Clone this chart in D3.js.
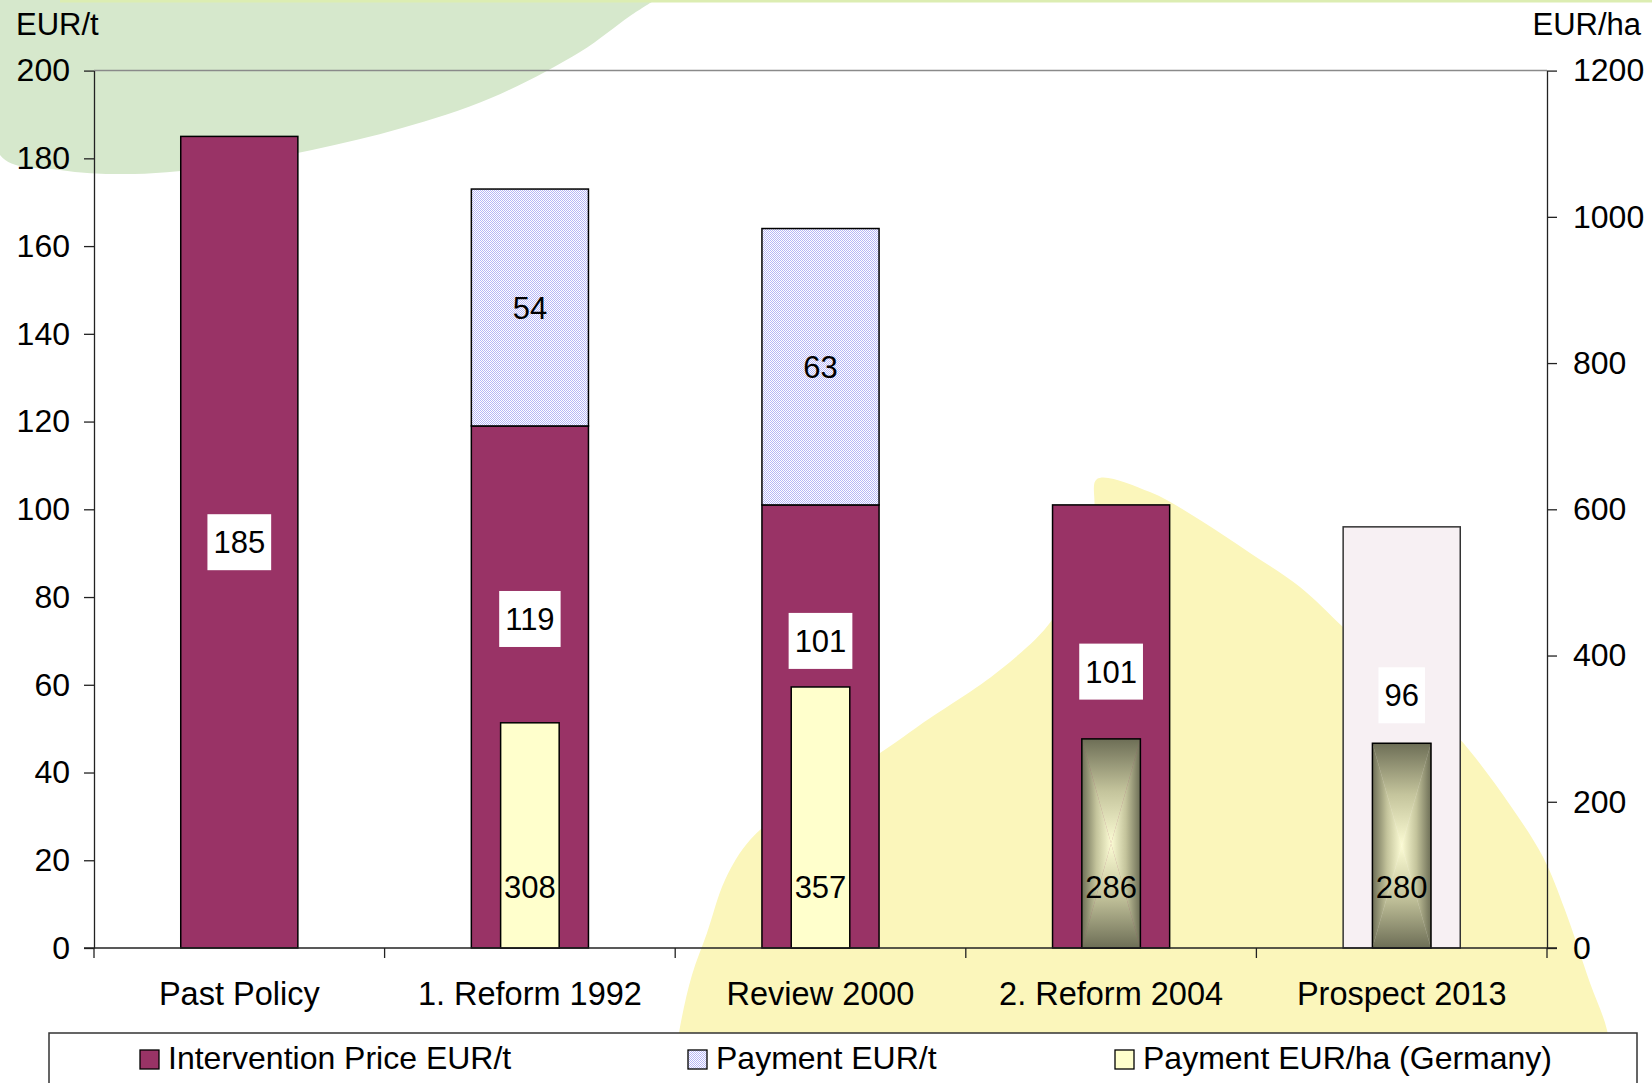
<!DOCTYPE html>
<html>
<head>
<meta charset="utf-8">
<script src="https://cdn.jsdelivr.net/npm/d3@7"></script>
<style>
  html, body { margin: 0; padding: 0; background: #fff; }
  svg { display: block; }
  text { font-family: "Liberation Sans", Arial, sans-serif; fill: #000; }
</style>
</head>
<body>
<svg id="chart" width="1652" height="1083"></svg>
<script>
// ---------- data ----------
const categories = ["Past Policy", "1. Reform 1992", "Review 2000", "2. Reform 2004", "Prospect 2013"];
const interventionPrice = [185, 119, 101, 101, 96];      // EUR/t (left axis)
const paymentPerTonne   = [0, 54, 63, 0, 0];             // EUR/t (left axis, stacked)
const paymentPerHa      = [null, 308, 357, 286, 280];    // EUR/ha (right axis)
const leftTicks  = [0, 20, 40, 60, 80, 100, 120, 140, 160, 180, 200];
const rightTicks = [0, 200, 400, 600, 800, 1000, 1200];
const seriesNames = ["Intervention Price EUR/t", "Payment EUR/t", "Payment EUR/ha (Germany)"];
// where the price labels sit (in EUR/t units, as placed in the original)
const priceLabelAt = [92.5, 75, 70, 63, 57.6];

// ---------- layout ----------
const W = 1652, H = 1083;
const plot = { left: 94, right: 1547, top: 70.6, bottom: 948 };
const FONT = 31, TICKFONT = 32, CATFONT = 32.5, LEGFONT = 32;
const svg = d3.select("#chart");
const defs = svg.append("defs");

// pattern for Payment EUR/t (fine checker)
const pat = defs.append("pattern").attr("id", "checker")
  .attr("width", 2).attr("height", 2).attr("patternUnits", "userSpaceOnUse");
pat.append("rect").attr("width", 2).attr("height", 2).attr("fill", "#ffffff");
pat.append("rect").attr("width", 1).attr("height", 1).attr("fill", "#b6b6f6");
pat.append("rect").attr("x", 1).attr("y", 1).attr("width", 1).attr("height", 1).attr("fill", "#b6b6f6");

// gradients for the "from center" fill
function makeGrad(id, x1, y1, x2, y2) {
  const g = defs.append("linearGradient").attr("id", id)
    .attr("x1", x1).attr("y1", y1).attr("x2", x2).attr("y2", y2);
  g.append("stop").attr("offset", 0).attr("stop-color", "#6d6e56");
  g.append("stop").attr("offset", 0.5).attr("stop-color", "#c4c49c");
  g.append("stop").attr("offset", 1).attr("stop-color", "#fcfcd4");
}
makeGrad("gTop", 0, 0, 0, 1);
makeGrad("gBot", 0, 1, 0, 0);
makeGrad("gLeft", 0, 0, 1, 0);
makeGrad("gRight", 1, 0, 0, 0);

// ---------- background decorations ----------
const deco = svg.append("g");
const greenPts = [[0,0],[0,155],[60,170],[134,174],[223,166],[312,150],[402,128],[491,98],[580,52],[630,16],[655,0]];
deco.append("path")
  .attr("d", d3.line().curve(d3.curveCatmullRom)(greenPts) + "Z")
  .attr("fill", "#d6e8cc");
const yellowPts = [[672,1083],[680,1027],[692,975],[707,933],[725,880],[750,840],[800,800],[880,753],[920,725],[1000,670],
                   [1052,620],[1080,560],[1094,510],[1097,479],
                   [1150,492],[1200,520],[1250,553],[1300,587],[1343,627],[1400,680],[1459,738],[1510,805],[1543,857],[1565,910],[1590,983],[1607,1030],[1614,1083]];
deco.append("path")
  .attr("d", d3.line().curve(d3.curveCatmullRom)(yellowPts) + "Z")
  .attr("fill", "#fbf6bb");
deco.append("rect").attr("x", 60).attr("y", 0).attr("width", W - 60).attr("height", 2.5).attr("fill", "#dcedb2");

// ---------- scales ----------
const x = d3.scaleBand().domain(categories).range([plot.left, plot.right]).padding(0);
const yL = d3.scaleLinear().domain([0, 200]).range([plot.bottom, plot.top]);
const yR = d3.scaleLinear().domain([0, 1200]).range([plot.bottom, plot.top]);
const barW = x.bandwidth() * 0.403;
const innerW = barW / 2;

// plot top border
svg.append("line").attr("x1", plot.left).attr("x2", plot.right)
  .attr("y1", plot.top).attr("y2", plot.top).attr("stroke", "#8a8a8a").attr("stroke-width", 1.5);

// ---------- bars ----------
const bars = svg.append("g");
const priceFill = "#993366", prospectFill = "#f7f0f3";
categories.forEach((c, i) => {
  const cx = x(c) + x.bandwidth() / 2;
  const p = interventionPrice[i], q = paymentPerTonne[i];
  bars.append("rect")
    .attr("x", cx - barW / 2).attr("width", barW)
    .attr("y", yL(p)).attr("height", yL(0) - yL(p))
    .attr("fill", i === categories.length - 1 ? prospectFill : priceFill)
    .attr("stroke", i === categories.length - 1 ? "#333" : "#000").attr("stroke-width", 1.5);
  if (q > 0) {
    bars.append("rect")
      .attr("x", cx - barW / 2).attr("width", barW)
      .attr("y", yL(p + q)).attr("height", yL(p) - yL(p + q))
      .attr("fill", "url(#checker)").attr("stroke", "#000").attr("stroke-width", 1.5);
  }
});

// inner bars (EUR/ha, right axis)
categories.forEach((c, i) => {
  const v = paymentPerHa[i];
  if (v == null) return;
  const cx = x(c) + x.bandwidth() / 2;
  const x0 = cx - innerW / 2, x1 = cx + innerW / 2, y0 = yR(v), y1 = yR(0);
  const g = bars.append("g");
  if (i >= 3) {
    const mx = cx, my = (y0 + y1) / 2;
    const tri = (pts, fill) => g.append("path").attr("d", "M" + pts.map(p => p.join(",")).join("L") + "Z")
      .attr("fill", fill).attr("stroke", fill).attr("stroke-width", 0.3);
    tri([[x0, y0], [x1, y0], [mx, my]], "url(#gTop)");
    tri([[x0, y1], [x1, y1], [mx, my]], "url(#gBot)");
    tri([[x0, y0], [x0, y1], [mx, my]], "url(#gLeft)");
    tri([[x1, y0], [x1, y1], [mx, my]], "url(#gRight)");
    g.append("rect").attr("x", x0).attr("y", y0).attr("width", innerW).attr("height", y1 - y0)
      .attr("fill", "none").attr("stroke", "#000").attr("stroke-width", 1.5);
  } else {
    g.append("rect").attr("x", x0).attr("y", y0).attr("width", innerW).attr("height", y1 - y0)
      .attr("fill", "#ffffcc").attr("stroke", "#000").attr("stroke-width", 1.5);
  }
});

// ---------- data labels ----------
const labels = svg.append("g").attr("font-size", FONT);
categories.forEach((c, i) => {
  const cx = x(c) + x.bandwidth() / 2;
  // price label with white box
  const ly = yL(priceLabelAt[i]);
  const t = labels.append("text").attr("x", cx).attr("y", ly).attr("dy", "0.36em")
    .attr("text-anchor", "middle").text(interventionPrice[i]);
  const tw = t.node().getComputedTextLength();
  labels.insert("rect", () => t.node())
    .attr("x", cx - tw / 2 - 6).attr("width", tw + 12)
    .attr("y", ly - 28).attr("height", 56).attr("fill", "#fff");
  // payment EUR/t label
  const q = paymentPerTonne[i];
  if (q > 0) {
    const p = interventionPrice[i];
    labels.append("text").attr("x", cx).attr("y", (yL(p) + yL(p + q)) / 2).attr("dy", "0.36em")
      .attr("text-anchor", "middle").text(q);
  }
  // EUR/ha label near base
  const v = paymentPerHa[i];
  if (v != null) {
    labels.append("text").attr("x", cx).attr("y", yR(0) - 61).attr("dy", "0.36em")
      .attr("text-anchor", "middle").text(v);
  }
});

// ---------- axes ----------
const fmt = d3.format("d");
const axL = svg.append("g").attr("transform", `translate(${plot.left},0)`)
  .call(d3.axisLeft(yL).tickValues(leftTicks).tickFormat(fmt).tickSize(10).tickSizeOuter(0).tickPadding(14));
const axR = svg.append("g").attr("transform", `translate(${plot.right},0)`)
  .call(d3.axisRight(yR).tickValues(rightTicks).tickFormat(fmt).tickSize(10).tickSizeOuter(0).tickPadding(16));
[axL, axR].forEach(a => {
  a.selectAll("text").attr("font-size", TICKFONT).attr("font-family", "Liberation Sans, Arial, sans-serif").attr("fill", "#000");
  a.selectAll("line, path").attr("stroke", "#222").attr("stroke-width", 1.3);
});

// x axis (category boundaries)
const axX = svg.append("g");
axX.append("line").attr("x1", plot.left - 10).attr("x2", plot.right + 10)
  .attr("y1", plot.bottom).attr("y2", plot.bottom).attr("stroke", "#222").attr("stroke-width", 1.3);
const bounds = categories.map(c => x(c)).concat([x.range()[1]]);
axX.selectAll(".tk").data(bounds).join("line")
  .attr("x1", d => d).attr("x2", d => d).attr("y1", plot.bottom).attr("y2", plot.bottom + 10)
  .attr("stroke", "#222").attr("stroke-width", 1.3);
axX.selectAll(".cl").data(categories).join("text")
  .attr("x", d => x(d) + x.bandwidth() / 2).attr("y", 1005)
  .attr("text-anchor", "middle").attr("font-size", CATFONT).text(d => d);

// axis titles
svg.append("text").attr("x", 16).attr("y", 35).attr("font-size", FONT).text("EUR/t");
svg.append("text").attr("x", 1641).attr("y", 35).attr("font-size", FONT).attr("text-anchor", "end").text("EUR/ha");

// ---------- legend ----------
const leg = svg.append("g");
leg.append("rect").attr("x", 49).attr("y", 1033).attr("width", 1588).attr("height", 80)
  .attr("fill", "#fff").attr("stroke", "#333").attr("stroke-width", 1.5);
const legX = [140, 688, 1115];
const legFill = [priceFill, "url(#checker)", "#ffffcc"];
seriesNames.forEach((n, i) => {
  leg.append("rect").attr("x", legX[i]).attr("y", 1050).attr("width", 19).attr("height", 19)
    .attr("fill", legFill[i]).attr("stroke", "#000").attr("stroke-width", 1.3);
  leg.append("text").attr("x", legX[i] + 28).attr("y", 1069).attr("font-size", LEGFONT).text(n);
});
</script>
</body>
</html>
